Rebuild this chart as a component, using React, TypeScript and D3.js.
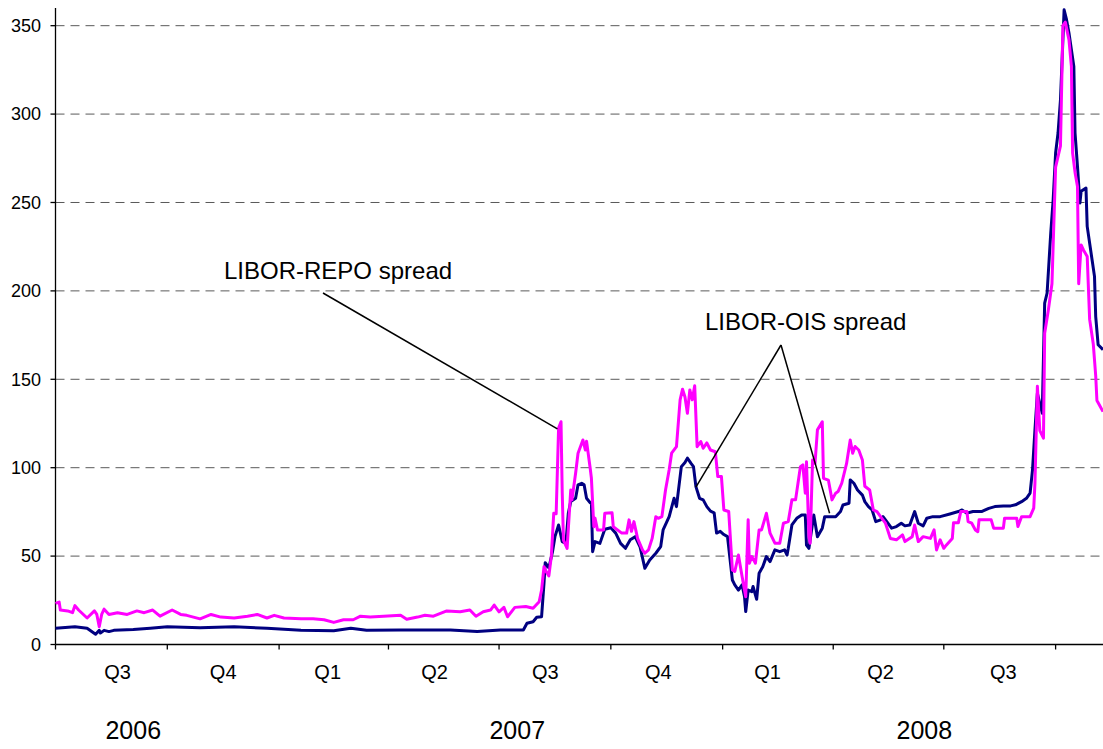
import React from 'react';
import * as d3 from 'd3';

// LIBOR-REPO spread (magenta)
const repoDates = [
  '2006-07-01','2006-07-04','2006-07-05','2006-07-11','2006-07-15','2006-07-17','2006-07-20','2006-07-27',
  '2006-08-02','2006-08-04','2006-08-06','2006-08-08','2006-08-10','2006-08-14','2006-08-21','2006-08-29',
  '2006-09-06','2006-09-12','2006-09-19','2006-09-25','2006-10-05','2006-10-12','2006-10-17','2006-10-28',
  '2006-11-06','2006-11-14','2006-11-25','2006-12-06','2006-12-14','2006-12-22','2006-12-28','2007-01-05',
  '2007-01-19','2007-01-29','2007-02-07','2007-02-15','2007-02-23','2007-03-03','2007-03-09','2007-03-17',
  '2007-03-28','2007-04-11','2007-04-16','2007-04-25','2007-05-01','2007-05-08','2007-05-19','2007-05-30',
  '2007-06-07','2007-06-12','2007-06-18','2007-06-24','2007-06-27','2007-07-01','2007-07-05','2007-07-08',
  '2007-07-14','2007-07-23','2007-07-29','2007-08-03','2007-08-05','2007-08-07','2007-08-09','2007-08-11',
  '2007-08-13','2007-08-15','2007-08-17','2007-08-19','2007-08-21','2007-08-22','2007-08-23','2007-08-26',
  '2007-08-29','2007-08-30','2007-09-02','2007-09-04','2007-09-08','2007-09-10','2007-09-11','2007-09-14',
  '2007-09-15','2007-09-17','2007-09-18','2007-09-20','2007-09-25','2007-09-26','2007-10-02','2007-10-03',
  '2007-10-10','2007-10-14','2007-10-16','2007-10-18','2007-10-20','2007-10-23','2007-10-27','2007-10-29',
  '2007-11-01','2007-11-04','2007-11-07','2007-11-09','2007-11-12','2007-11-15','2007-11-18','2007-11-20',
  '2007-11-24','2007-11-27','2007-11-29','2007-12-01','2007-12-03','2007-12-05','2007-12-07','2007-12-09',
  '2007-12-11','2007-12-14','2007-12-16','2007-12-19','2007-12-22','2007-12-26','2007-12-28','2007-12-31',
  '2008-01-02','2008-01-06','2008-01-09','2008-01-11','2008-01-14','2008-01-17','2008-01-20','2008-01-22',
  '2008-01-23','2008-01-25','2008-01-28','2008-01-31','2008-02-02','2008-02-06','2008-02-09','2008-02-13',
  '2008-02-17','2008-02-20','2008-02-24','2008-02-27','2008-03-01','2008-03-03','2008-03-05','2008-03-07',
  '2008-03-09','2008-03-10','2008-03-12','2008-03-13','2008-03-15','2008-03-17','2008-03-19','2008-03-23',
  '2008-03-24','2008-03-28','2008-03-31','2008-04-03','2008-04-05','2008-04-08','2008-04-12','2008-04-15',
  '2008-04-17','2008-04-19','2008-04-22','2008-04-25','2008-04-27','2008-05-01','2008-05-04','2008-05-07',
  '2008-05-11','2008-05-14','2008-05-18','2008-05-23','2008-05-28','2008-05-30','2008-06-05','2008-06-07',
  '2008-06-10','2008-06-14','2008-06-20','2008-06-23','2008-06-25','2008-06-28','2008-07-01','2008-07-03',
  '2008-07-08','2008-07-09','2008-07-13','2008-07-15','2008-07-20','2008-07-21','2008-07-24','2008-07-27',
  '2008-07-29','2008-07-30','2008-08-09','2008-08-11','2008-08-19','2008-08-20','2008-08-30','2008-08-31',
  '2008-09-03','2008-09-10','2008-09-13','2008-09-14','2008-09-16','2008-09-18','2008-09-21','2008-09-22',
  '2008-09-25','2008-09-28','2008-10-01','2008-10-05','2008-10-07','2008-10-09','2008-10-12','2008-10-14',
  '2008-10-15','2008-10-17','2008-10-19','2008-10-20','2008-10-22','2008-10-24','2008-10-27','2008-10-29',
  '2008-11-01','2008-11-03','2008-11-04','2008-11-09'
];
const repoValues = [
  23.3,24,19.5,19,18,22,19.5,15,
  19,17,10,17,20,17,18,17,
  19,18,19.5,16,19.5,17,16.5,14.5,
  17,15.5,15,16,17,15,16.5,15,
  14.5,14.5,14,12.5,14,14,16,15.5,
  16,16.5,14.3,15.5,16.5,16,19,18.5,
  19.5,16,18.5,19.5,22.3,18.5,21,15.7,
  21,21.5,20.5,24.2,30.8,44,41,38.8,
  49.7,74.2,74,122.4,126,85.6,59,54.4,
  87.4,81.8,96.9,108.2,115.7,110,115,99.7,
  94,66.6,71.4,64.8,64.8,74.2,74.5,66.6,
  63,63,70.5,64,69.5,60,53.5,51.6,
  53.5,60,72.3,71.4,72.3,87.4,98.8,108.2,
  111.9,138.4,144.4,140,130.8,144,138.4,146.3,
  111.9,114.8,111,114,110,109,95,95,
  76.1,75.2,42.2,41.3,50.6,38.4,27,70.5,
  46,49.7,46,64.8,64.8,74.2,63,57.3,
  57.3,68.6,69.5,81.8,81.8,91.2,100.6,101.6,
  85.6,103.4,61,57.3,104.4,102.4,121.4,126,
  94,93,81.8,85.6,86.5,91.2,102.4,115.7,
  108.2,112,110,104.4,89.5,87.4,76.1,75.2,
  71.4,68.6,60,59.2,62,58.2,61,67.6,
  58.2,61,60,64.8,53.5,59.2,54.4,56.2,
  60,68.9,68.9,75.2,75.2,69.5,68.6,64.8,
  63.8,70.5,70.5,65.8,65.8,71.4,71.4,66.7,
  72.3,72.3,77.1,91.2,146,121,116.7,176,
  189,204,270,282,350,352,342,327,
  278,267,259,204,226,223,219.5,184,
  170,152,138,131.7
];

// LIBOR-OIS spread (navy)
const oisDates = [
  '2006-07-01','2006-07-17','2006-07-27','2006-08-03','2006-08-06','2006-08-07','2006-08-10','2006-08-14',
  '2006-08-18','2006-09-03','2006-09-17','2006-10-01','2006-10-28','2006-11-25','2006-12-22','2007-01-19',
  '2007-02-15','2007-03-01','2007-03-14','2007-04-11','2007-04-27','2007-05-22','2007-06-13','2007-07-02',
  '2007-07-21','2007-07-24','2007-07-29','2007-08-01','2007-08-05','2007-08-07','2007-08-08','2007-08-11',
  '2007-08-14','2007-08-16','2007-08-19','2007-08-22','2007-08-25','2007-08-27','2007-08-29','2007-09-02',
  '2007-09-04','2007-09-07','2007-09-09','2007-09-11','2007-09-14','2007-09-15','2007-09-16','2007-09-18',
  '2007-09-22','2007-09-26','2007-10-01','2007-10-05','2007-10-09','2007-10-13','2007-10-17','2007-10-21',
  '2007-10-25','2007-10-29','2007-11-02','2007-11-07','2007-11-11','2007-11-13','2007-11-18','2007-11-22',
  '2007-11-24','2007-11-28','2007-12-01','2007-12-03','2007-12-06','2007-12-08','2007-12-10','2007-12-13',
  '2007-12-16','2007-12-19','2007-12-22','2007-12-25','2007-12-27','2007-12-30','2008-01-02','2008-01-05',
  '2008-01-09','2008-01-11','2008-01-14','2008-01-17','2008-01-19','2008-01-20','2008-01-22','2008-01-25',
  '2008-01-26','2008-01-29','2008-01-31','2008-02-03','2008-02-06','2008-02-09','2008-02-13','2008-02-17',
  '2008-02-21','2008-02-23','2008-02-24','2008-02-27','2008-03-02','2008-03-06','2008-03-09','2008-03-10',
  '2008-03-12','2008-03-16','2008-03-19','2008-03-23','2008-03-25','2008-04-03','2008-04-07','2008-04-09',
  '2008-04-14','2008-04-15','2008-04-18','2008-04-21','2008-04-25','2008-04-27','2008-04-30','2008-05-03',
  '2008-05-06','2008-05-10','2008-05-12','2008-05-16','2008-05-19','2008-05-23','2008-05-27','2008-05-30',
  '2008-06-03','2008-06-07','2008-06-10','2008-06-14','2008-06-17','2008-06-22','2008-06-28','2008-07-06',
  '2008-07-13','2008-07-16','2008-07-20','2008-07-25','2008-08-01','2008-08-07','2008-08-12','2008-08-19',
  '2008-08-25','2008-08-29','2008-09-03','2008-09-07','2008-09-10','2008-09-12','2008-09-14','2008-09-16',
  '2008-09-20','2008-09-22','2008-09-24','2008-09-27','2008-09-29','2008-10-01','2008-10-03','2008-10-05',
  '2008-10-08','2008-10-10','2008-10-12','2008-10-14','2008-10-16','2008-10-17','2008-10-19','2008-10-21',
  '2008-10-22','2008-10-26','2008-10-27','2008-10-31','2008-11-02','2008-11-03','2008-11-05','2008-11-09'
];
const oisValues = [
  9.2,10,9.2,5.8,8,6.5,8,7.3,
  8,8.5,9.2,10,9.5,10,9.2,8,
  7.8,9.2,8,8.2,8.2,8.2,7.3,8.2,
  8.2,12,12.9,15.4,15.7,34.7,46.3,43.4,
  52.5,61,67.6,58.2,57.2,74.2,80.8,82.7,
  90.3,91.2,90.3,82.7,80.2,80,52.5,58.2,
  57.2,65.2,66,63,57.2,54.4,59.2,61,
  55.3,43.1,47.8,51.6,55.3,64.8,72.3,82.7,
  78,100.6,102.9,105.4,102.4,100.6,89.3,82.7,
  81.8,78,75.4,74.5,63,64,62.2,61,
  36.5,33.7,30.8,33.7,27,18.6,30.8,29.9,
  32.8,25.6,40.3,44,49.7,46.9,53.5,52.5,
  53.5,50.6,54.4,67.6,71.4,73.3,73.3,56.2,
  54.4,73.3,61,65.8,72.3,72.3,75.2,78.9,
  79.9,93.1,91.2,87.4,84.5,80.8,78,76.1,
  69.5,70.5,72.3,68.6,65.8,66.7,68.6,67.1,
  67.6,75.2,68.6,67.1,71.4,72.3,72.3,73.8,
  75.2,76.1,74.3,75.2,75.2,77,78,78.4,
  78.4,79,80.8,82.7,85.6,98.8,121.4,142,
  130.8,193.1,198.8,232.7,251.6,278,289.3,308,
  359,353.4,345.9,336.4,327,289.3,270.4,249.7,
  256.3,258.2,236.5,217.6,208.2,185.5,169.5,166.7
];

const yTicks = [0, 50, 100, 150, 200, 250, 300, 350];
const quarterLabels = ['Q3', 'Q4', 'Q1', 'Q2', 'Q3', 'Q4', 'Q1', 'Q2', 'Q3'];
const quarterLabelDates = ['2006-08-21','2006-11-16','2007-02-10','2007-05-09','2007-08-08','2007-11-09','2008-02-07','2008-05-10','2008-08-19'];
const yearLabels = ['2006', '2007', '2008'];
const yearLabelDates = ['2006-09-03', '2007-07-16', '2008-06-15'];

const W = 1103;
const H = 749;
const FONT = "'Liberation Sans', Arial, Helvetica, sans-serif";
const parse = d3.timeParse('%Y-%m-%d');

type Pt = { d: Date; v: number };

export default function App() {
  const x = d3.scaleTime()
    .domain([parse('2006-07-01') as Date, parse('2008-11-09') as Date])
    .range([55.5, 1103]);
  const y = d3.scaleLinear().domain([0, 360]).range([644.5, 8]);

  const repo: Pt[] = repoDates.map((s, i) => ({ d: parse(s) as Date, v: repoValues[i] }));
  const ois: Pt[] = oisDates.map((s, i) => ({ d: parse(s) as Date, v: oisValues[i] }));

  const line = d3.line<Pt>().x(p => x(p.d)).y(p => y(p.v));

  const quarterTicks = d3.timeMonth.every(3)!.range(parse('2006-07-01') as Date, parse('2008-11-09') as Date);

  const x0 = 55.5;
  const yBase = 644.5;

  const repoTip: [number, number] = [x(parse('2007-08-18') as Date), y(122)];
  const oisTip1: [number, number] = [x(parse('2007-12-10') as Date), y(89)];
  const oisTip2: [number, number] = [x(parse('2008-03-29') as Date), y(74.2)];

  return (
    <svg width={W} height={H} style={{ position: 'absolute', left: 0, top: 0, display: 'block', background: '#fff' }}
      fontFamily={FONT}>
      <rect x={0} y={0} width={W} height={H} fill="#fff" />
      {yTicks.filter(t => t > 0).map(t => (
        <line key={'g' + t} x1={x0} x2={W} y1={y(t)} y2={y(t)} stroke="#5a5a5a" strokeWidth={1} strokeDasharray="9,6" />
      ))}
      <line x1={x0} x2={x0} y1={8} y2={yBase} stroke="#000" strokeWidth={1.3} />
      {yTicks.map(t => (
        <g key={'yt' + t}>
          <line x1={x0 - 5} x2={x0} y1={y(t)} y2={y(t)} stroke="#000" strokeWidth={1.3} />
          <text x={41} y={y(t)} dy="0.35em" textAnchor="end" fontSize={18} fill="#000">{t}</text>
        </g>
      ))}
      <line x1={x0} x2={W} y1={yBase} y2={yBase} stroke="#000" strokeWidth={1.3} />
      {quarterTicks.map((d, i) => (
        <line key={'xt' + i} x1={x(d)} x2={x(d)} y1={yBase} y2={yBase + 5} stroke="#000" strokeWidth={1.3} />
      ))}
      {quarterLabels.map((q, i) => (
        <text key={'ql' + i} x={x(parse(quarterLabelDates[i]) as Date)} y={679} textAnchor="middle" fontSize={20} fill="#000">{q}</text>
      ))}
      {yearLabels.map((yr, i) => (
        <text key={'yl' + i} x={x(parse(yearLabelDates[i]) as Date)} y={739} textAnchor="middle" fontSize={25} fill="#000">{yr}</text>
      ))}
      <path d={line(ois) || ''} fill="none" stroke="#000080" strokeWidth={3} strokeLinejoin="round" />
      <path d={line(repo) || ''} fill="none" stroke="#ff00ff" strokeWidth={3} strokeLinejoin="round" />
      <line x1={323} y1={293} x2={repoTip[0]} y2={repoTip[1]} stroke="#000" strokeWidth={1.5} />
      <text x={224} y={279} fontSize={24} fill="#000">LIBOR-REPO spread</text>
      <line x1={781} y1={345} x2={oisTip1[0]} y2={oisTip1[1]} stroke="#000" strokeWidth={1.5} />
      <line x1={781} y1={345} x2={oisTip2[0]} y2={oisTip2[1]} stroke="#000" strokeWidth={1.5} />
      <text x={705} y={330} fontSize={24} fill="#000">LIBOR-OIS spread</text>
    </svg>
  );
}
